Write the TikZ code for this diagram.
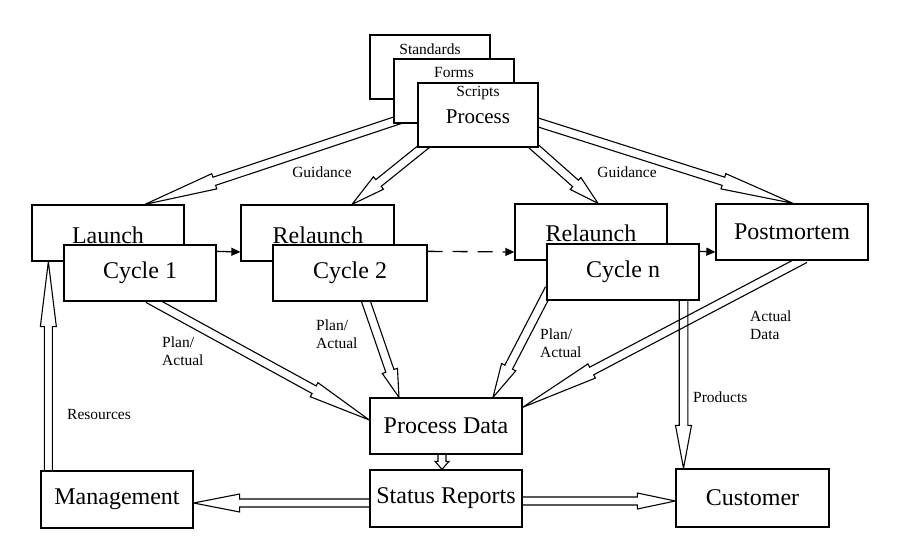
\documentclass[tikz,border=0pt]{standalone}
\usepackage{fontspec}
\setmainfont{Liberation Serif}
\usetikzlibrary{calc,arrows.meta}

% hollow (outlined) block arrow: from, to, head length, shaft half width, head half width
\newcommand\hollowarrow[5]{%
  \path ($(#2)!#3!(#1)$) coordinate (hb);
  \draw[hollowline] ($(#1)!#4!90:(#2)$) -- ($(hb)!#4!90:(#2)$) -- ($(hb)!#5!90:(#2)$)
    -- (#2) -- ($(hb)!#5!-90:(#2)$) -- ($(hb)!#4!-90:(#2)$) -- ($(#1)!#4!-90:(#2)$);
}

\tikzset{
  box/.style={draw, fill=white, line width=1.3pt, inner sep=0pt,
    minimum width=152pt, minimum height=56pt, font=\fontsize{24}{28}\selectfont},
  docbox/.style={box, minimum width=120pt, minimum height=64pt},
  bigtext/.style={inner sep=0pt, font=\fontsize{24}{28}\selectfont},
  smalltext/.style={inner sep=0pt, align=left, anchor=west,
    font=\fontsize{15.5}{18}\selectfont},
  hollowline/.style={line width=1.1pt, line join=miter},
  thinarrow/.style={line width=1.3pt, -{Triangle[length=9pt,width=8pt]}},
}

\begin{document}
\begin{tikzpicture}[x=1pt,y=-1pt]
\useasboundingbox (0,0) rectangle (903,548);

% boxes (positions only, drawn again below over the arrows)
\path
  (430,67) node[docbox] (std) {}
  (454,91) node[docbox] (forms) {}
  (478,115) node[docbox] (proc) {}
  (108,233) node[box] (launch) {}
  (140,273) node[box] (cyc1) {}
  (317.5,233) node[box, minimum width=153pt] (rel1) {}
  (350,273) node[box, minimum width=154pt] (cyc2) {}
  (591,232) node[box] (reln) {}
  (623,272) node[box] (cycn) {}
  (792,232) node[box] (post) {}
  (446,426) node[box] (pd) {}
  (446,498.5) node[box, minimum height=57pt] (sr) {}
  (117,499.5) node[box, minimum height=57pt] (mgmt) {}
  (752.5,498) node[box, minimum width=153pt, minimum height=58pt] (cust) {};

% end points of the block arrows
\coordinate (g1s) at ($(proc.west)+(2,-2)$);
\coordinate (g1e) at ($(launch.north)+(37,0)$);
\coordinate (g2s) at ($(proc.south west)+(10,-4)$);
\coordinate (g2e) at ($(rel1.north)+(34.5,0)$);
\coordinate (g3s) at ($(proc.south east)+(-8,-4)$);
\coordinate (g3e) at ($(reln.north)+(7,0)$);
\coordinate (g4s) at ($(proc.east)+(-2,7)$);
\coordinate (g4e) at ($(post.north)+(1,0)$);
\coordinate (p1s) at ($(cyc1.south)+(8,-3)$);
\coordinate (p1e) at ($(pd.west)+(0,-6)$);
\coordinate (p2s) at ($(cyc2.south)+(15,-3)$);
\coordinate (p2e) at ($(pd.north)+(-47,0)$);
\coordinate (pns) at ($(cycn.south west)+(3,-12)$);
\coordinate (pne) at ($(pd.north)+(47,0)$);
\coordinate (ads) at ($(post.south)+(13,-2)$);
\coordinate (ade) at ($(pd.north east)+(0,10)$);
\coordinate (prs) at ($(cycn.south)+(60.5,-2)$);
\coordinate (pre) at ($(cust.north)+(-69,0)$);
\coordinate (rss) at ($(mgmt.north west)+(8,0)$);
\coordinate (rse) at ($(launch.south west)+(17,0)$);
\coordinate (mgs) at ($(sr.west)+(0,4.5)$);
\coordinate (mge) at ($(mgmt.east)+(0,3.5)$);
\coordinate (cus) at ($(sr.east)+(0,2.5)$);
\coordinate (cue) at ($(cust.west)+(0,3)$);
\coordinate (pds) at ($(pd.south)+(-4,0)$);
\coordinate (pde) at ($(sr.north)+(-4,0)$);

% block arrows
\hollowarrow{g1s}{g1e}{73pt}{4.3pt}{8pt}
\hollowarrow{g2s}{g2e}{34pt}{4.3pt}{8pt}
\hollowarrow{g3s}{g3e}{30pt}{4.3pt}{8pt}
\hollowarrow{g4s}{g4e}{73pt}{4.3pt}{8pt}
\hollowarrow{p1s}{p1e}{63pt}{4.3pt}{8pt}
\hollowarrow{p2s}{p2e}{28pt}{4.3pt}{8pt}
\hollowarrow{pns}{pne}{34pt}{4.3pt}{8pt}
\hollowarrow{ads}{ade}{78pt}{4.3pt}{8pt}
\hollowarrow{prs}{pre}{43pt}{4.3pt}{8pt}
\hollowarrow{rss}{rse}{65pt}{4pt}{8pt}
\hollowarrow{mgs}{mge}{46pt}{4pt}{9pt}
\hollowarrow{cus}{cue}{38pt}{4pt}{8pt}
\hollowarrow{pds}{pde}{8pt}{4pt}{7pt}

% boxes on top of the arrow tails
\node[docbox] at (std) {};
\node[docbox] at (forms) {};
\node[docbox] at (proc) {};
\node[box] at (launch) {};
\node[box] at (cyc1) {Cycle 1};
\node[box, minimum width=153pt] at (rel1) {};
\node[box, minimum width=154pt] at (cyc2) {Cycle 2};
\node[box] at (reln) {};
\node[box] at (cycn) {Cycle n};
\node[box] at (post) {Postmortem};
\node[box] at (pd) {Process Data};
\node[box, minimum height=57pt] at (sr) {Status Reports};
\node[box, minimum height=57pt] at (mgmt) {Management};
\node[box, minimum width=153pt, minimum height=58pt] at (cust) {Customer};

% texts in the stacked and overlapped boxes
\node[smalltext, anchor=center] (stdtxt) at (430,49) {Standards};
\node[smalltext, anchor=center] (formstxt) at (454,73) {Forms};
\node[smalltext, anchor=center] (scrtxt) at (478,93) {Scripts};
\node[bigtext, font=\fontsize{21}{24}\selectfont] (proctxt) at (478,117) {Process};
\node[bigtext] (launchtxt) at (108,235) {Launch};
\node[bigtext] (rel1txt) at (318,235) {Relaunch};
\node[bigtext] (relntxt) at (591,233) {Relaunch};

% sequence arrows between cycles
\draw[thinarrow] ($(cyc1.north east)+(0,7)$) -- ($(rel1.west)+(0,19)$);
\draw[thinarrow, dash pattern=on 15pt off 10pt] ($(cyc2.north east)+(0,7)$) -- ($(reln.west)+(0,20)$);
\draw[thinarrow] ($(cycn.north east)+(0,8)$) -- ($(post.west)+(0,20)$);

% arrow labels
\node[smalltext, anchor=center] (guid1) at (322,172) {Guidance};
\node[smalltext, anchor=center] (guid2) at (627,172) {Guidance};
\node[smalltext] (pa1) at (162,351) {Plan/\\Actual};
\node[smalltext] (pa2) at (316,334) {Plan/\\Actual};
\node[smalltext] (pan) at (540,343) {Plan/\\Actual};
\node[smalltext] (actd) at (750,325) {Actual\\Data};
\node[smalltext] (prod) at (693,397) {Products};
\node[smalltext] (res) at (67,415) {Resources};
\end{tikzpicture}
\end{document}
